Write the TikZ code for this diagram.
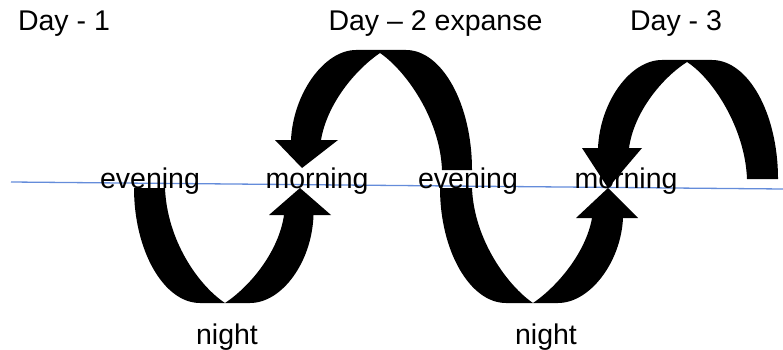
\documentclass[tikz,border=0pt]{standalone}
\usepackage{fontspec}
\setmainfont{Liberation Sans}
\definecolor{lineblue}{RGB}{100,140,218}
\begin{document}
\begin{tikzpicture}[x=1pt,y=-1pt,
  band/.style={fill=black,draw=none},
  lbl/.style={font=\fontsize{28.5}{33}\selectfont,anchor=base,inner sep=0pt},
  horizon/.style={draw=lineblue,line width=1.3pt}]
\useasboundingbox (0,0) rectangle (783,350);
% arrow 1 : evening -> night -> morning
\fill[band] (134,188) .. controls (134,251) and (164,303) .. (200,303) -- (250,303)
  .. controls (282,303) and (312,262) .. (313.5,215) -- (331,215) -- (300,188) -- (269,215)
  -- (284,215) .. controls (279,250) and (252,285) .. (225,303)
  .. controls (198,285) and (167,240) .. (165,188) -- cycle;
% arrow 2 : evening -> morning (over the top)
\fill[band] (472,170) .. controls (472,104) and (442,50) .. (406,50) -- (356,50)
  .. controls (324,50) and (293,94) .. (291,140) -- (275,140) -- (302,168) -- (338,140)
  -- (321,140) .. controls (327,104) and (355,70) .. (380,53)
  .. controls (405,70) and (440,118) .. (442,170) -- cycle;
% arrow 3
\fill[band] (440,188) .. controls (440,251) and (470,303) .. (506,303) -- (558,303)
  .. controls (590,303) and (621,262) .. (623,218) -- (638,218) -- (608,188) -- (576,218)
  -- (592,218) .. controls (586,252) and (558,286) .. (533,303)
  .. controls (508,286) and (474,240) .. (472,188) -- cycle;
% arrow 4
\fill[band] (778,179) .. controls (778,113) and (748,60) .. (712,60) -- (662,60)
  .. controls (630,60) and (600,102) .. (598,148) -- (582,148) -- (608,188) -- (642,148)
  -- (629,148) .. controls (634,112) and (662,78) .. (687,62)
  .. controls (712,78) and (745,127) .. (747,179) -- cycle;
% horizon line
\coordinate (hl) at (11,182);
\coordinate (hr) at (783,189);
\draw[horizon] (hl) -- (hr);
% labels
\node[lbl] (day1) at (64,31) {Day - 1};
\node[lbl] (day2) at (435.5,31) {Day – 2 expanse};
\node[lbl] (day3) at (676,31) {Day - 3};
\node[lbl] (ev1) at (150,188) {evening};
\node[lbl] (mo1) at (317,188) {morning};
\node[lbl] (ev2) at (468,188) {evening};
\node[lbl] (mo2) at (626,188) {morning};
\node[lbl] (n1) at (227,344) {night};
\node[lbl] (n2) at (546,344) {night};
\end{tikzpicture}
\end{document}
